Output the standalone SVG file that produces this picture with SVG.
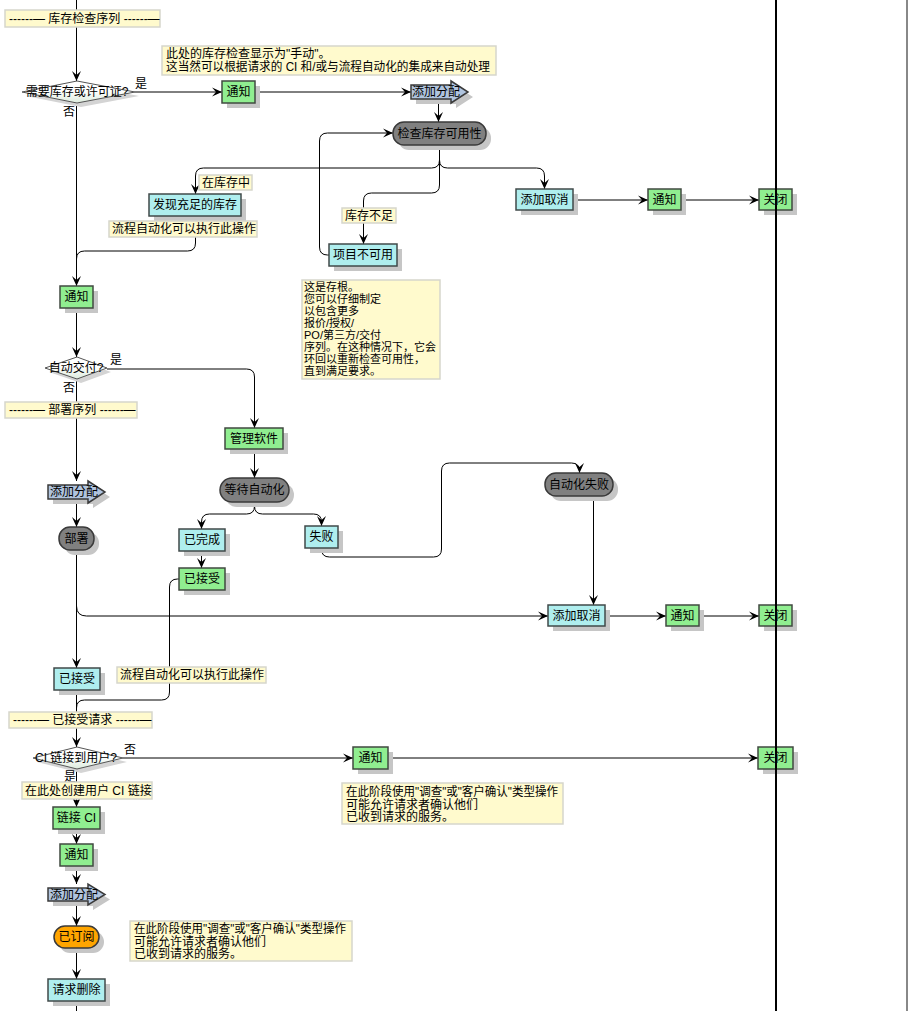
<svg xmlns="http://www.w3.org/2000/svg" width="911" height="1011" viewBox="0 0 911 1011">
<defs>
<marker id="ah" markerUnits="userSpaceOnUse" viewBox="0 0 10 10" markerWidth="10" markerHeight="10" refX="10" refY="5" orient="auto"><path d="M0,0.5 L10,5 L0,9.5 L4,5 Z" fill="#000"/></marker>
<linearGradient id="dg" x1="0" y1="0" x2="0" y2="1"><stop offset="0" stop-color="#ffffff"/><stop offset="0.45" stop-color="#ffffff"/><stop offset="1" stop-color="#dcebdc"/></linearGradient>
</defs>
<style>
text{font-family:"Liberation Sans","Noto Sans CJK SC",sans-serif;font-size:12px;fill:#000}
.c{text-anchor:middle}
.sm{font-size:11px}
.sh{fill:#c6c6c6}
.g{fill:#90EE90;stroke:#404a40;stroke-width:1.5}
.b{fill:#AFEEEE;stroke:#404a4a;stroke-width:1.5}
.p{fill:#808080;stroke:#3a3a3a;stroke-width:1.5}
.o{fill:#FFA500;stroke:#3a3a3a;stroke-width:1.5}
.a{fill:#B0C4DE;stroke:#3a3a3a;stroke-width:1.5}
.nt{fill:#FFFACD;stroke:#d6d6cc;stroke-width:1.5}
.d{fill:url(#dg);stroke:#555;stroke-width:1}
.dsh{fill:#d4d4d4}
#conn path{fill:none;stroke:#000;stroke-width:1}
#conn path.ar{marker-end:url(#ah)}
</style>
<rect width="911" height="1011" fill="#fff"/>

<g id="conn">
<path class="ar" d="M76.5,0 V81"/>
<path class="ar" d="M135,92 H222"/>
<path class="ar" d="M255,92 H411"/>
<path class="ar" d="M438.5,99 V122"/>
<path class="ar" d="M439.5,145 V160 Q439.5,168 431.5,168 H203.5 Q195.5,168 195.5,176 V194"/>
<path class="ar" d="M439.5,145 V185 Q439.5,193 431.5,193 H371.5 Q363.5,193 363.5,201 V244"/>
<path class="ar" d="M439.5,145 V160 Q439.5,168 447.5,168 H536.5 Q544.5,168 544.5,176 V189"/>
<path class="ar" d="M329,255 H327.5 Q319.5,255 319.5,247 V141 Q319.5,133 327.5,133 H393"/>
<path class="ar" d="M573,200 H648"/>
<path class="ar" d="M681,200 H759"/>
<path d="M195.5,216 V243 Q195.5,251 187.5,251 H84.5 Q76.5,251 76.5,259"/>
<path class="ar" d="M76.5,103 V286"/>
<path class="ar" d="M76.5,308 V357"/>
<path class="ar" d="M107,369 H246.5 Q254.5,369 254.5,377 V428"/>
<path class="ar" d="M254.5,449 V478"/>
<path class="ar" d="M254.5,502 V506 Q254.5,514 246.5,514 H209.5 Q201.5,514 201.5,522 V529"/>
<path class="ar" d="M254.5,502 V506 Q254.5,514 262.5,514 H313.5 Q321.5,514 321.5,522 V526"/>
<path class="ar" d="M321.5,548 V549 Q321.5,557 329.5,557 H433.5 Q441.5,557 441.5,549 V471 Q441.5,463 449.5,463 H571.5 Q579.5,463 579.5,471 V473"/>
<path class="ar" d="M593.5,495 V605"/>
<path class="ar" d="M201.5,551 V568"/>
<path class="ar" d="M76.5,379 V481"/>
<path class="ar" d="M76.5,499 V527"/>
<path class="ar" d="M76.5,550 V668"/>
<path class="ar" d="M76.5,606 Q76.5,616 86.5,616 H548"/>
<path class="ar" d="M605,616 H666"/>
<path class="ar" d="M699,616 H759"/>
<path d="M179,579 H177.5 Q169.5,579 169.5,587 V692 Q169.5,700 161.5,700 H84.5 Q76.5,700 76.5,708"/>
<path class="ar" d="M76.5,690 V747"/>
<path class="ar" d="M123,758 H353"/>
<path class="ar" d="M388,758 H758"/>
<path class="ar" d="M76.5,769 V807"/>
<path class="ar" d="M76.5,829 V844"/>
<path class="ar" d="M76.5,866 V884"/>
<path class="ar" d="M76.5,901 V926"/>
<path class="ar" d="M76.5,948 V979"/>
<path d="M76.5,1001 V1011"/>
</g>

<g id="label-inventory"><rect class="nt" x="5" y="10" width="155" height="17"/><text x="9" y="23">------— 库存检查序列 ------—</text></g>
<g id="note-manual"><rect class="nt" x="162" y="46" width="334" height="29"/><text x="166" y="58">此处的库存检查显示为"手动"。</text><text x="166" y="71" textLength="324" lengthAdjust="spacingAndGlyphs">这当然可以根据请求的 CI 和/或与流程自动化的集成来自动处理</text></g>

<g id="dec-inventory">
<polygon class="dsh" points="26,96 81,85 139,96 81,107"/>
<polygon class="d" points="22,92 77,81 135,92 77,103"/>
<text class="c" x="77" y="96">需要库存或许可证?</text>
<text x="135" y="88">是</text><text x="63" y="116">否</text>
</g>

<g id="notify-1"><rect class="sh" x="227" y="86" width="33" height="22"/><rect class="g" x="222" y="81" width="33" height="22"/><text class="c" x="238.5" y="96">通知</text></g>
<g id="alloc-1"><polygon class="sh" points="416,90 456,90 456,86 473,97 456,108 456,104 416,104"/><polygon class="a" points="411,85 451,85 451,81 468,92 451,103 451,99 411,99"/><text x="412" y="96">添加分配</text></g>
<g id="check-avail"><rect class="sh" x="398" y="127" width="93" height="23" rx="11"/><rect class="p" x="393" y="122" width="93" height="23" rx="11"/><text class="c" x="439.5" y="138">检查库存可用性</text></g>

<g id="found-stock"><rect class="sh" x="154" y="199" width="92" height="22"/><rect class="b" x="149" y="194" width="92" height="22"/><text class="c" x="195" y="209">发现充足的库存</text></g>
<g id="label-instock"><rect class="nt" x="199" y="175" width="53" height="15"/><text x="202" y="187">在库存中</text></g>
<g id="label-auto-1"><rect class="nt" x="109" y="221" width="148" height="16"/><text x="112" y="233">流程自动化可以执行此操作</text></g>
<g id="label-short"><rect class="nt" x="342" y="208" width="54" height="15"/><text x="345" y="220">库存不足</text></g>
<g id="unavailable"><rect class="sh" x="334" y="249" width="68" height="22"/><rect class="b" x="329" y="244" width="68" height="22"/><text class="c" x="363" y="259">项目不可用</text></g>

<g id="cancel-1"><rect class="sh" x="521" y="194" width="57" height="21"/><rect class="b" x="516" y="189" width="57" height="21"/><text class="c" x="544.5" y="204">添加取消</text></g>
<g id="notify-c1"><rect class="sh" x="653" y="194" width="33" height="21"/><rect class="g" x="648" y="189" width="33" height="21"/><text class="c" x="664.5" y="204">通知</text></g>
<g id="close-1"><rect class="sh" x="764" y="194" width="33" height="21"/><rect class="g" x="759" y="189" width="33" height="21"/><text class="c" x="775.5" y="204">关闭</text></g>

<g id="note-stub"><rect class="nt" x="302" y="280" width="138" height="99"/>
<text class="sm" x="304" y="291">这是存根。</text>
<text class="sm" x="304" y="303">您可以仔细制定</text>
<text class="sm" x="304" y="315">以包含更多</text>
<text class="sm" x="304" y="327">报价/授权/</text>
<text class="sm" x="304" y="339">PO/第三方/交付</text>
<text class="sm" x="304" y="351">序列。在这种情况下，它会</text>
<text class="sm" x="304" y="363">环回以重新检查可用性，</text>
<text class="sm" x="304" y="375">直到满足要求。</text>
</g>

<g id="notify-2"><rect class="sh" x="65" y="291" width="33" height="22"/><rect class="g" x="60" y="286" width="33" height="22"/><text class="c" x="76.5" y="301">通知</text></g>

<g id="dec-auto">
<polygon class="dsh" points="49,372 81,361 111,372 81,383"/>
<polygon class="d" points="45,368 77,357 107,368 77,379"/>
<text class="c" x="76" y="372">自动交付?</text>
<text x="110" y="364">是</text><text x="63" y="392">否</text>
</g>

<g id="label-deploy"><rect class="nt" x="5" y="402" width="132" height="16"/><text x="9" y="414">------— 部署序列 ------—</text></g>
<g id="manage-sw"><rect class="sh" x="230" y="433" width="58" height="21"/><rect class="g" x="225" y="428" width="58" height="21"/><text class="c" x="254" y="443">管理软件</text></g>
<g id="wait-auto"><rect class="sh" x="225" y="483" width="69" height="24" rx="12"/><rect class="p" x="220" y="478" width="69" height="24" rx="12"/><text class="c" x="254.5" y="494">等待自动化</text></g>
<g id="alloc-2"><polygon class="sh" points="53,490 93,490 93,486 110,497 93,508 93,504 53,504"/><polygon class="a" points="48,485 88,485 88,481 105,492 88,503 88,499 48,499"/><text x="50" y="496">添加分配</text></g>
<g id="deploy"><rect class="sh" x="64" y="532" width="35" height="23" rx="11"/><rect class="p" x="59" y="527" width="35" height="23" rx="11"/><text class="c" x="76.5" y="543">部署</text></g>
<g id="done"><rect class="sh" x="184" y="534" width="46" height="22"/><rect class="b" x="179" y="529" width="46" height="22"/><text class="c" x="202" y="544">已完成</text></g>
<g id="fail"><rect class="sh" x="310" y="531" width="33" height="22"/><rect class="b" x="305" y="526" width="33" height="22"/><text class="c" x="321.5" y="541">失败</text></g>
<g id="auto-fail"><rect class="sh" x="550" y="478" width="68" height="23" rx="11"/><rect class="p" x="545" y="473" width="68" height="23" rx="11"/><text class="c" x="579" y="489">自动化失败</text></g>
<g id="accepted-g"><rect class="sh" x="184" y="573" width="46" height="22"/><rect class="g" x="179" y="568" width="46" height="22"/><text class="c" x="202" y="583">已接受</text></g>
<g id="cancel-2"><rect class="sh" x="553" y="610" width="57" height="21"/><rect class="b" x="548" y="605" width="57" height="21"/><text class="c" x="576.5" y="620">添加取消</text></g>
<g id="notify-3"><rect class="sh" x="671" y="610" width="33" height="21"/><rect class="g" x="666" y="605" width="33" height="21"/><text class="c" x="682.5" y="620">通知</text></g>
<g id="close-2"><rect class="sh" x="764" y="610" width="33" height="21"/><rect class="g" x="759" y="605" width="33" height="21"/><text class="c" x="775.5" y="620">关闭</text></g>
<g id="accepted-c"><rect class="sh" x="59" y="673" width="46" height="22"/><rect class="b" x="54" y="668" width="46" height="22"/><text class="c" x="77" y="683">已接受</text></g>
<g id="label-auto-2"><rect class="nt" x="117" y="667" width="149" height="16"/><text x="120" y="679">流程自动化可以执行此操作</text></g>

<g id="label-accept"><rect class="nt" x="9" y="712" width="143" height="16"/><text x="13" y="724">------— 已接受请求 ------—</text></g>
<g id="dec-ci">
<polygon class="dsh" points="37,762 81,751 127,762 81,773"/>
<polygon class="d" points="33,758 77,747 123,758 77,769"/>
<text class="c" x="76" y="762">CI 链接到用户?</text>
<text x="124" y="754">否</text><text x="64" y="781">是</text>
</g>
<g id="notify-4"><rect class="sh" x="358" y="752" width="35" height="22"/><rect class="g" x="353" y="747" width="35" height="22"/><text class="c" x="370.5" y="762">通知</text></g>
<g id="close-3"><rect class="sh" x="763" y="752" width="35" height="22"/><rect class="g" x="758" y="747" width="35" height="22"/><text class="c" x="775.5" y="762">关闭</text></g>
<g id="note-survey-1"><rect class="nt" x="342" y="783" width="221" height="41"/><text x="346" y="796" textLength="212" lengthAdjust="spacingAndGlyphs">在此阶段使用"调查"或"客户确认"类型操作</text><text x="346" y="808.5">可能允许请求者确认他们</text><text x="346" y="821">已收到请求的服务。</text></g>
<g id="label-create-ci"><rect class="nt" x="22" y="782" width="130" height="17"/><text x="25" y="795">在此处创建用户 CI 链接</text></g>
<g id="link-ci"><rect class="sh" x="58" y="812" width="47" height="22"/><rect class="g" x="53" y="807" width="47" height="22"/><text class="c" x="76.5" y="822">链接 CI</text></g>
<g id="notify-5"><rect class="sh" x="65" y="849" width="33" height="22"/><rect class="g" x="60" y="844" width="33" height="22"/><text class="c" x="76.5" y="859">通知</text></g>
<g id="alloc-3"><polygon class="sh" points="53,893 93,893 93,889 110,899.5 93,910 93,906 53,906"/><polygon class="a" points="48,888 88,888 88,884 105,894.5 88,905 88,901 48,901"/><text x="50" y="899">添加分配</text></g>
<g id="subscribed"><rect class="sh" x="59" y="931" width="45" height="22" rx="11"/><rect class="o" x="54" y="926" width="45" height="22" rx="11"/><text class="c" x="76.5" y="941">已订阅</text></g>
<g id="note-survey-2"><rect class="nt" x="130" y="921" width="222" height="40"/><text x="134" y="933" textLength="212" lengthAdjust="spacingAndGlyphs">在此阶段使用"调查"或"客户确认"类型操作</text><text x="134" y="945.5">可能允许请求者确认他们</text><text x="134" y="958">已收到请求的服务。</text></g>
<g id="delete-req"><rect class="sh" x="53" y="984" width="57" height="22"/><rect class="b" x="48" y="979" width="57" height="22"/><text class="c" x="76.5" y="994">请求删除</text></g>

<line x1="776" y1="0" x2="776" y2="1011" stroke="#000" stroke-width="2"/>
<line x1="907" y1="0" x2="907" y2="1011" stroke="#888" stroke-width="2"/>
</svg>
